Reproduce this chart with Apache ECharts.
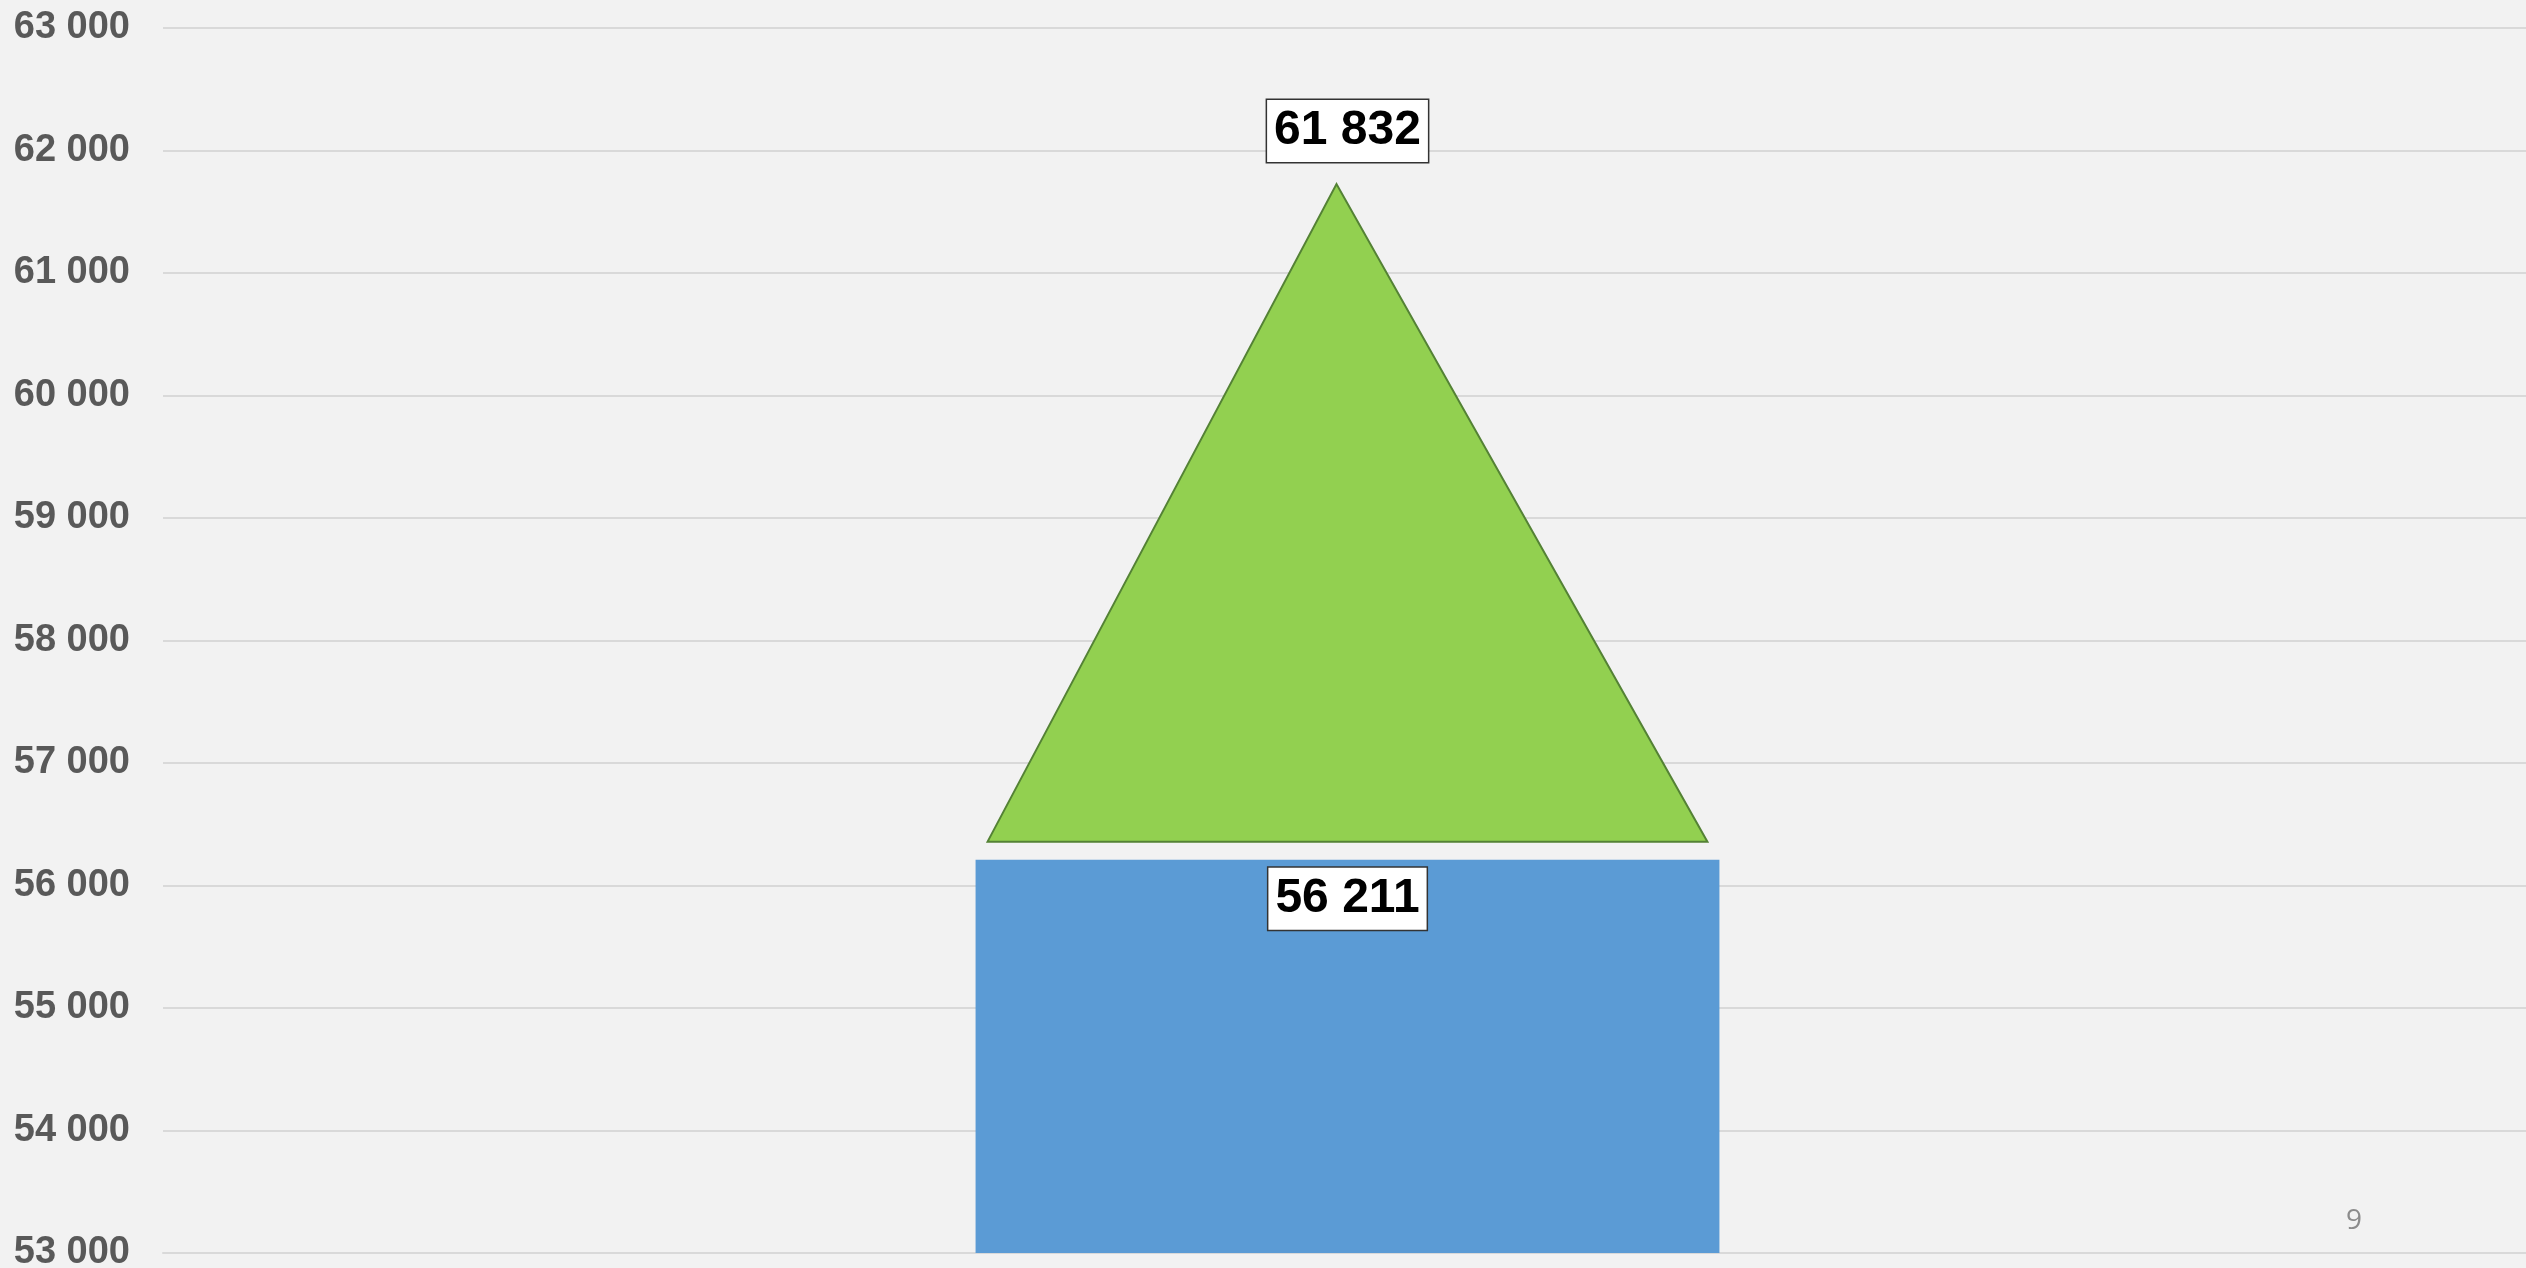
<!DOCTYPE html>
<html>
<head>
<meta charset="utf-8">
<script src="https://cdn.jsdelivr.net/npm/echarts@6/dist/echarts.min.js"></script>
<style>
  html, body { margin: 0; padding: 0; background: #f2f2f2; }
  #chart { width: 2526px; height: 1268px; }
</style>
</head>
<body>
<div id="chart"></div>
<script>
// data
const categories = [''];
const startValues = [56211];
const endValues = [61832];
const yMin = 53000;
const yMax = 63000;
const yStep = 1000;
const pageNumber = '9';

const fmt = v => String(Math.round(v)).replace(/\B(?=(\d{3})+(?!\d))/g, ' ');

const labelBox = {
  fontFamily: 'Liberation Sans, Arial, sans-serif',
  fontSize: 48,
  fontWeight: 'bold',
  color: '#000',
  backgroundColor: '#fff',
  borderColor: '#333',
  borderWidth: 1.5,
  padding: [4, 7],
  lineHeight: 54
};

const chart = echarts.init(document.getElementById('chart'));

const option = {
  backgroundColor: '#f2f2f2',
  animation: false,
  grid: { left: 163, right: -6, top: 28, bottom: 15, outerBoundsMode: 'none', containLabel: false },
  xAxis: {
    type: 'category',
    data: categories,
    axisLine: { show: true, lineStyle: { color: '#d9d9d9', width: 2 } },
    axisTick: { show: false },
    axisLabel: { show: false }
  },
  yAxis: {
    type: 'value',
    min: yMin,
    max: yMax,
    interval: yStep,
    axisLine: { show: false },
    axisTick: { show: false },
    splitLine: { lineStyle: { color: '#d9d9d9', width: 2 } },
    axisLabel: {
      margin: 33,
      padding: [10, 0, 0, 0],
      color: '#595959',
      fontFamily: 'Liberation Sans, Arial, sans-serif',
      fontSize: 38,
      fontWeight: 'bold',
      formatter: fmt
    }
  },
  series: [
    {
      type: 'bar',
      data: startValues,
      barWidth: '31.4%',
      itemStyle: { color: '#5b9bd5' },
      label: Object.assign({
        show: true,
        position: 'insideTop',
        distance: 8,
        formatter: p => fmt(p.value)
      }, labelBox)
    },
    {
      // increase shown as a triangle from the start value up to the end value
      type: 'custom',
      data: categories.map((c, i) => [i, startValues[i], endValues[i]]),
      encode: { x: 0, y: [1, 2] },
      z: 3,
      renderItem: function (params, api) {
        const base = api.coord([api.value(0), api.value(1)]);
        const peak = api.coord([api.value(0), api.value(2)]);
        const band = api.size([1, 0])[0];
        const half = band * 0.314 / 2 - 12;
        const cx = base[0];
        const baseY = base[1] - 18;
        const topY = peak[1] + 13;
        return {
          type: 'group',
          children: [
            {
              type: 'polygon',
              shape: { points: [[cx - half, baseY], [cx + half, baseY], [cx - 11, topY]] },
              style: { fill: '#92d050', stroke: '#548235', lineWidth: 2 }
            },
            {
              type: 'text',
              x: cx,
              y: peak[1] - 9,
              style: {
                text: fmt(api.value(2)),
                align: 'center',
                verticalAlign: 'bottom',
                fill: labelBox.color,
                fontFamily: labelBox.fontFamily,
                fontSize: labelBox.fontSize,
                fontWeight: labelBox.fontWeight,
                lineHeight: labelBox.lineHeight,
                backgroundColor: labelBox.backgroundColor,
                borderColor: labelBox.borderColor,
                borderWidth: labelBox.borderWidth,
                padding: labelBox.padding
              }
            }
          ]
        };
      }
    }
  ],
  graphic: [
    {
      type: 'text',
      left: 2346,
      top: 1207,
      style: {
        text: pageNumber,
        fill: '#8c8c8c',
        fontFamily: 'Open Sans, sans-serif',
        fontSize: 28
      }
    }
  ]
};

chart.setOption(option);
</script>
</body>
</html>
